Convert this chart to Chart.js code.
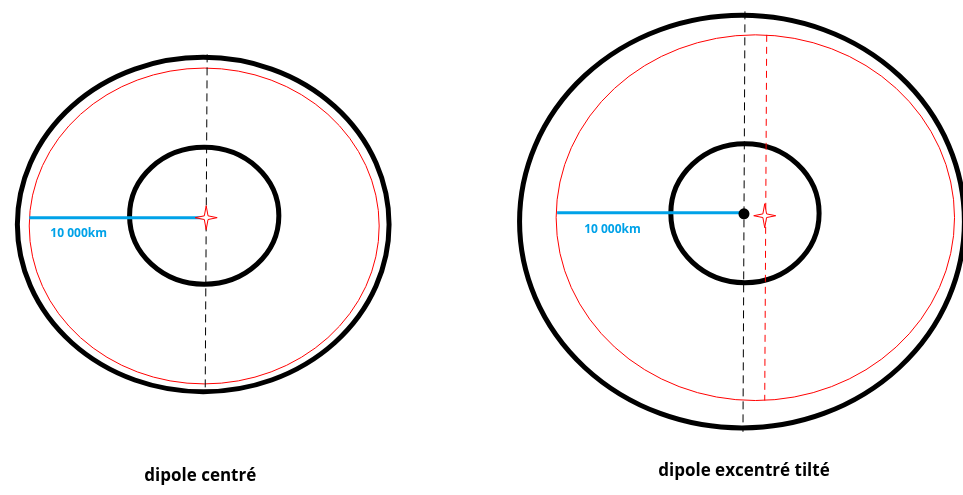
<!DOCTYPE html>
<html>
<head>
<meta charset="utf-8">
<script src="https://cdn.jsdelivr.net/npm/chart.js@4.4.1/dist/chart.umd.min.js"></script>
<style>
  html, body { margin: 0; padding: 0; background: #fff; }
  canvas { display: block; }
</style>
</head>
<body>
<canvas id="dipoleChart" width="963" height="495"></canvas>
<script>
// anneaux noirs (noyau + surface) : [cx, cy, rx, ry]
const blackRings = [
  [200, 224, 188, 171],
  [201, 215, 75.5, 70],
  [745, 221, 225, 211],
  [748, 212.5, 75, 71]
];
// anneaux rouges (dipôle)
const redRings = [
  [201, 225.5, 177, 161.5],
  [758.5, 217, 201.5, 187]
];
const radiusLines = [
  [[24, 217], [203, 217]],
  [[558, 212], [745, 212]]
];
const blackAxes = [
  [[204, 50], [202, 397]],
  [[748, 6], [746, 436]]
];
const redAxes = [
  [[770, 30], [768, 404]]
];
const stars = [[203, 217], [768, 215]];
const dipoleDots = [[747, 213]];
const radiusLabels = ['10 000km', '10 000km'];
const labelPos = [[74, 233], [614, 229]];
const titles = ['dipole centré', 'dipole excentré tilté'];
const titlePos = [[197, 481], [747, 476]];

const seg = pts => pts.map(p => ({ x: p[0], y: p[1] }));

const dessin = {
  id: 'dessin',
  beforeDatasetsDraw(chart) {
    const { ctx, scales: { x, y } } = chart;
    const ring = (r, color, width) => {
      const cx = x.getPixelForValue(r[0]), cy = y.getPixelForValue(r[1]);
      const rx = Math.abs(x.getPixelForValue(r[0] + r[2]) - cx);
      const ry = Math.abs(y.getPixelForValue(r[1] + r[3]) - cy);
      ctx.beginPath();
      ctx.ellipse(cx, cy, rx, ry, 0, 0, Math.PI * 2);
      ctx.strokeStyle = color;
      ctx.lineWidth = width;
      ctx.stroke();
    };
    ctx.save();
    redRings.forEach(r => ring(r, '#ff0000', 1));
    blackRings.forEach(r => ring(r, '#000', 5));
    ctx.restore();
  },
  afterDatasetsDraw(chart) {
    const { ctx, scales: { x, y } } = chart;
    ctx.save();
    // étoiles rouges
    stars.forEach(s => {
      const px = x.getPixelForValue(s[0]), py = y.getPixelForValue(s[1]);
      ctx.beginPath();
      for (let i = 0; i < 8; i++) {
        const a = i * Math.PI / 4 - Math.PI / 2;
        const big = i % 2 === 0;
        const rx = big ? 11 : 2.6, ry = big ? 12 : 2.6;
        ctx.lineTo(px + rx * Math.cos(a), py + ry * Math.sin(a));
      }
      ctx.closePath();
      ctx.fillStyle = '#fff';
      ctx.fill();
      ctx.strokeStyle = '#ff0000';
      ctx.lineWidth = 1;
      ctx.stroke();
    });
    ctx.textAlign = 'center';
    ctx.textBaseline = 'middle';
    ctx.fillStyle = '#00a2e8';
    ctx.font = 'bold 12px "Open Sans"';
    radiusLabels.forEach((t, i) => {
      ctx.fillText(t, x.getPixelForValue(labelPos[i][0]), y.getPixelForValue(labelPos[i][1]));
    });
    ctx.fillStyle = '#000';
    ctx.font = 'bold 17px "Open Sans"';
    titles.forEach((t, i) => {
      ctx.fillText(t, x.getPixelForValue(titlePos[i][0]), y.getPixelForValue(titlePos[i][1]));
    });
    ctx.restore();
  }
};

const ctx = document.getElementById('dipoleChart').getContext('2d');
new Chart(ctx, {
  type: 'scatter',
  data: {
    datasets: [
      { data: seg(dipoleDots), pointRadius: 5.5, pointBackgroundColor: '#000', pointBorderWidth: 0 },
      ...radiusLines.map(l => ({ data: seg(l), showLine: true, borderColor: '#00a2e8', borderWidth: 3, pointRadius: 0 })),
      ...blackAxes.map(l => ({ data: seg(l), showLine: true, borderColor: '#000', borderWidth: 1, borderDash: [8, 5], pointRadius: 0 })),
      ...redAxes.map(l => ({ data: seg(l), showLine: true, borderColor: '#ff0000', borderWidth: 1, borderDash: [7, 5], pointRadius: 0 }))
    ]
  },
  options: {
    responsive: false,
    animation: false,
    events: [],
    layout: { padding: 0 },
    plugins: { legend: { display: false }, tooltip: { enabled: false } },
    scales: {
      x: { type: 'linear', min: 0, max: 963, display: false },
      y: { type: 'linear', min: 0, max: 495, reverse: true, display: false }
    }
  },
  plugins: [dessin]
});
</script>
</body>
</html>
